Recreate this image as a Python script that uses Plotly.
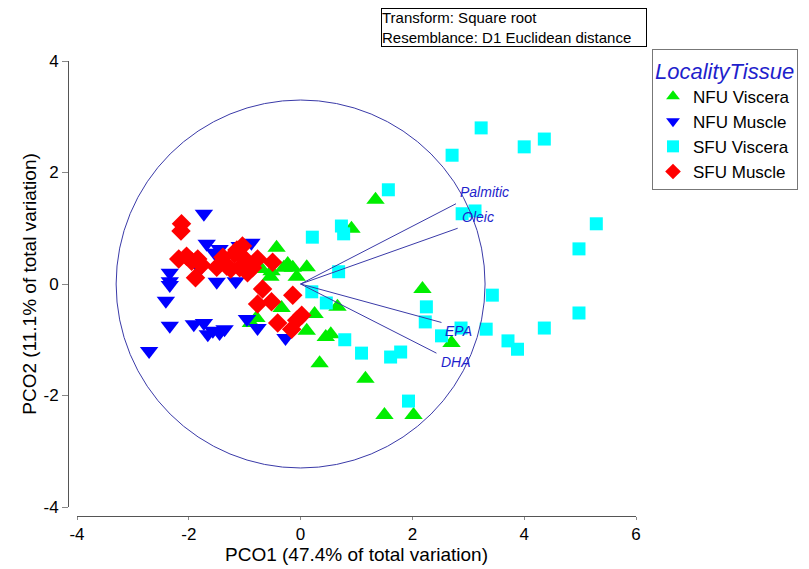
import plotly.graph_objects as go

# ---- data (PCO scores) ----
nfu_viscera_x = [1.34, 0.91, -0.43, -0.70, -0.54, -0.30, -0.14, 0.11, -0.07, -0.34, -0.79, -0.89, 0.25,
                 0.66, 0.11, 0.45, 0.54, 0.34, 1.16, 1.50, 2.02, 2.18, 2.70, -0.23, -0.52]
nfu_viscera_y = [1.51, 0.99, 0.65, 0.27, 0.13, 0.29, 0.29, 0.30, 0.13, -0.43, -0.61, -0.70, -0.54,
                 -0.41, -0.84, -0.95, -0.90, -1.42, -1.70, -2.35, -2.35, -0.09, -1.06, 0.36, 0.23]

nfu_muscle_x = [-1.73, -1.68, -1.45, -1.54, -0.88, -1.09, -1.80, -2.34, -2.34, -2.34, -1.50, -1.16, -1.04,
                -2.41, -2.34, -1.91, -1.73, -1.66, -1.45, -1.36, -0.96, -0.77, -0.27, -2.71, -1.57]
nfu_muscle_y = [1.26, 0.72, 0.63, 0.56, 0.74, 0.68, 0.27, 0.20, 0.05, -0.02, 0.04, 0.05, 0.29,
                -0.30, -0.75, -0.72, -0.70, -0.90, -0.88, -0.81, -0.63, -0.79, -0.97, -1.20, -0.84]

sfu_viscera_x = [1.57, 0.73, 0.77, 0.21, 0.68, 0.20, 0.46, 0.79, 1.09, 1.61, 1.79, 1.93, 2.25, 2.23, 2.52,
                 2.87, 3.32, 3.71, 3.88, 4.36, 4.98, 3.43, 4.98, 5.29, 2.89, 3.12, 2.71, 3.23, 4.00, 4.36]
sfu_viscera_y = [1.69, 1.04, 0.90, 0.84, 0.22, -0.14, -0.34, -1.00, -1.24, -1.31, -1.22, -2.10, -0.41, -0.68,
                 -0.93, -0.79, -0.81, -1.02, -1.17, -0.79, -0.52, -0.20, 0.63, 1.08, 1.26, 1.31, 2.31, 2.80,
                 2.46, 2.60]

sfu_muscle_x = [-2.13, -2.14, -2.18, -2.04, -1.95, -1.84, -1.77, -1.88, -1.50, -1.32, -1.25, -1.18, -1.04,
                -1.00, -1.09, -0.95, -0.86, -0.77, -0.50, -0.68, -0.77, -0.52, -0.14, -0.41, -0.07, -0.16,
                0.02, -1.14, -1.39]
sfu_muscle_y = [1.08, 0.95, 0.45, 0.50, 0.41, 0.45, 0.34, 0.11, 0.30, 0.32, 0.27, 0.54, 0.68,
                0.45, 0.29, 0.20, 0.29, 0.45, 0.39, -0.09, -0.36, -0.32, -0.20, -0.70, -0.65, -0.81,
                -0.56, 0.61, 0.48]

# vector overlay (correlation vectors, scaled to plot)
vector_names = ["Palmitic", "Oleic", "EPA", "DHA"]
vector_x = [2.78, 2.81, 2.52, 2.43]
vector_y = [1.44, 1.00, -0.69, -1.24]
vector_label_x = [2.82, 2.86, 2.55, 2.48]
vector_label_y = [1.65, 1.20, -0.84, -1.40]
circle_radius = 3.3

x_ticks = [-4, -2, 0, 2, 4, 6]
y_ticks = [-4, -2, 0, 2, 4]
x_tick_labels = ["-4", "-2", "0", "2", "4", "6"]
y_tick_labels = ["-4", "-2", "0", "2", "4"]

FONT = "Arial, Liberation Sans, sans-serif"
W, H = 809, 569

groups = [
    ("NFU Viscera", nfu_viscera_x, nfu_viscera_y, "triangle-up", "#00ee00", 16),
    ("NFU Muscle", nfu_muscle_x, nfu_muscle_y, "triangle-down", "#0000ff", 16),
    ("SFU Viscera", sfu_viscera_x, sfu_viscera_y, "square", "#00ffff", 13),
    ("SFU Muscle", sfu_muscle_x, sfu_muscle_y, "diamond", "#ff0000", 15),
]

fig = go.Figure()
for name, xs, ys, sym, col, sz in groups:
    fig.add_trace(go.Scatter(
        x=xs, y=ys, mode="markers", name=name,
        marker=dict(symbol=sym, color=col, size=sz, line=dict(width=0)),
    ))

# vectors
for vx, vy in zip(vector_x, vector_y):
    fig.add_trace(go.Scatter(x=[0, vx], y=[0, vy], mode="lines", showlegend=False,
                             hoverinfo="skip", line=dict(color="#3a3aa8", width=1)))

for name, lx, ly in zip(vector_names, vector_label_x, vector_label_y):
    fig.add_annotation(x=lx, y=ly, text=name, showarrow=False, xanchor="left", yanchor="middle",
                       font=dict(family=FONT, size=14, color="#1f1fcc", style="italic"))

fig.add_shape(type="circle", xref="x", yref="y", x0=-circle_radius, x1=circle_radius,
              y0=-circle_radius, y1=circle_radius, line=dict(color="#3a3aa8", width=1), layer="above")

# info box
fig.add_annotation(xref="paper", yref="paper", x=381 / W, y=1 - 8 / H, xanchor="left", yanchor="top",
                   text="Transform: Square root<br>Resemblance: D1 Euclidean distance",
                   align="left", showarrow=False, bordercolor="#000000", borderwidth=1, borderpad=0,
                   width=264, height=37, valign="middle",
                   bgcolor="white", font=dict(family=FONT, size=15, color="black"))

x0p, x1p = 77 / W, 636 / W
y0p, y1p = 1 - 507 / H, 1 - 61 / H

fig.update_layout(
    width=W, height=H, margin=dict(l=0, r=0, t=0, b=0),
    plot_bgcolor="white", paper_bgcolor="white",
    font=dict(family=FONT, size=17, color="black"),
    xaxis=dict(domain=[x0p, x1p], range=[-4, 6], anchor="free", position=1 - 516 / H,
               tickvals=x_ticks, ticktext=x_tick_labels, ticks="outside", ticklen=3, tickcolor="#888888",
               showline=True, linecolor="#555555", linewidth=1, showgrid=False, zeroline=False,
               title=dict(text="PCO1 (47.4% of total variation)", font=dict(size=19), standoff=2),
               automargin=False, tickfont=dict(size=17)),
    yaxis=dict(domain=[y0p, y1p], range=[-4, 4], anchor="free", position=68 / W,
               tickvals=y_ticks, ticktext=y_tick_labels, ticks="outside", ticklen=6, tickcolor="#888888",
               showline=True, linecolor="#555555", linewidth=1, showgrid=False, zeroline=False,
               title=dict(text="PCO2 (11.1% of total variation)", font=dict(size=19), standoff=0),
               automargin=False, tickfont=dict(size=17)),
    legend=dict(x=652 / W, y=1 - 49 / H, xanchor="left", yanchor="top",
                bordercolor="#777777", borderwidth=1, bgcolor="white",
                font=dict(family=FONT, size=17, color="black"),
                title=dict(text="LocalityTissue",
                           font=dict(family=FONT, size=22, color="#1f1fcc", style="italic")),
                itemsizing="constant", tracegroupgap=0, itemwidth=30),
    showlegend=True,
)

fig.write_html("out.html", config={"displayModeBar": False},
               post_script="document.body.style.margin='0';document.body.style.overflow='hidden';")
